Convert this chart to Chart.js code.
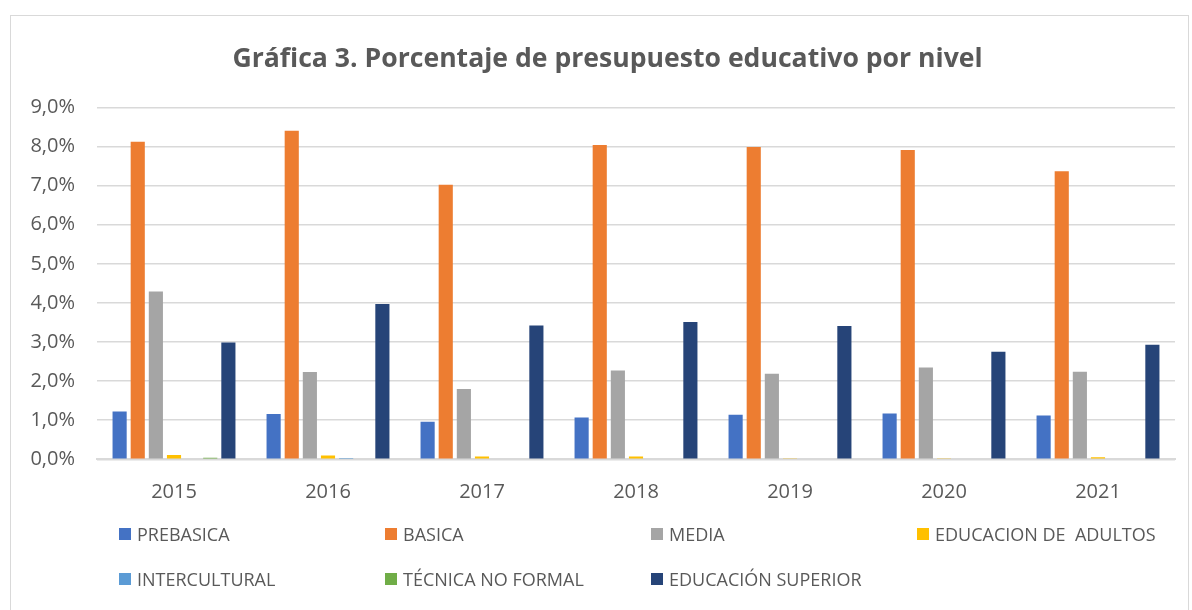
<!DOCTYPE html>
<html>
<head>
<meta charset="utf-8">
<script src="https://cdn.jsdelivr.net/npm/chart.js@4.4.1/dist/chart.umd.min.js"></script>
<style>
    body { margin: 0; background: #fff; font-family: "Open Sans", sans-serif; }
    #wrap { position: relative; width: 1192px; height: 610px; overflow: hidden; }
    #frame { position: absolute; left: 10px; top: 15px; width: 1177px; height: 620px; border: 1px solid #d9d9d9; }
    #chart { position: absolute; left: 0; top: 0; }
    #title { position: absolute; left: 40px; width: 1135px; top: 41px; text-align: center; font-size: 26.6px; font-weight: bold; color: #595959; line-height: 32px; }
    #legend { position: absolute; left: 119px; top: 522px; display: grid; grid-template-columns: repeat(4, 266px); row-gap: 21px; }
    .item { display: flex; align-items: center; height: 24px; font-size: 18px; color: #595959; white-space: pre; }
    .box { width: 12px; height: 12px; margin-right: 6px; flex: none; }
</style>
</head>
<body>
<div id="wrap">
    <div id="frame"></div>
    <canvas id="chart" width="1192" height="610"></canvas>
    <div id="title">Gráfica 3. Porcentaje de presupuesto educativo por nivel</div>
    <div id="legend"></div>
</div>
<script>
var years = ['2015', '2016', '2017', '2018', '2019', '2020', '2021'];
var prebasica = [1.22, 1.16, 0.96, 1.07, 1.14, 1.17, 1.12];
var basica = [8.12, 8.40, 7.02, 8.04, 7.99, 7.91, 7.37];
var media = [4.29, 2.23, 1.80, 2.27, 2.19, 2.35, 2.24];
var adultos = [0.11, 0.10, 0.07, 0.07, 0.03, 0.03, 0.05];
var intercultural = [0, 0.01, 0, 0, 0, 0, 0];
var tecnica = [0.04, 0, 0, 0, 0, 0, 0];
var superior = [2.99, 3.97, 3.42, 3.51, 3.41, 2.75, 2.93];

var seriesNames = ['PREBASICA', 'BASICA', 'MEDIA', 'EDUCACION DE  ADULTOS', 'INTERCULTURAL', 'TÉCNICA NO FORMAL', 'EDUCACIÓN SUPERIOR'];
var seriesData = [prebasica, basica, media, adultos, intercultural, tecnica, superior];
var seriesColors = ['#4472C4', '#ED7D31', '#A5A5A5', '#FFC000', '#5B9BD5', '#70AD47', '#264478'];

var datasets = seriesNames.map(function (name, i) {
    return {
        label: name,
        data: seriesData[i],
        backgroundColor: seriesColors[i],
        borderWidth: 0,
        categoryPercentage: 0.824,
        barPercentage: 0.78
    };
});

var ctx = document.getElementById('chart').getContext('2d');
var chart = new Chart(ctx, {
    type: 'bar',
    data: { labels: years, datasets: datasets },
    options: {
        responsive: false,
        animation: false,
        layout: { padding: { left: 0, right: 17, top: 107.4, bottom: 100.7 } },
        plugins: {
            legend: { display: false },
            tooltip: { enabled: false },
            title: { display: false }
        },
        scales: {
            x: {
                grid: { display: false, drawTicks: false },
                border: { display: true, color: '#d9d9d9', width: 2 },
                ticks: { color: '#595959', font: { family: 'Open Sans', size: 20 }, padding: 21 },
                afterFit: function (scale) { scale.height = 50; }
            },
            y: {
                min: 0,
                max: 9,
                grid: { color: '#d9d9d9', lineWidth: 1.5, drawTicks: false },
                border: { display: false },
                ticks: {
                    stepSize: 1,
                    color: '#595959',
                    padding: 22,
                    font: { family: 'Open Sans', size: 20 },
                    callback: function (v) { return v.toFixed(1).replace('.', ',') + '%'; }
                },
                afterFit: function (scale) { scale.width = 97; }
            }
        }
    }
});

// legend in Excel style: fixed columns
var legend = document.getElementById('legend');
seriesNames.forEach(function (name, i) {
    var item = document.createElement('div');
    item.className = 'item';
    item.innerHTML = '<span class="box" style="background:' + seriesColors[i] + '"></span>';
    item.appendChild(document.createTextNode(name));
    legend.appendChild(item);
});
</script>
</body>
</html>
